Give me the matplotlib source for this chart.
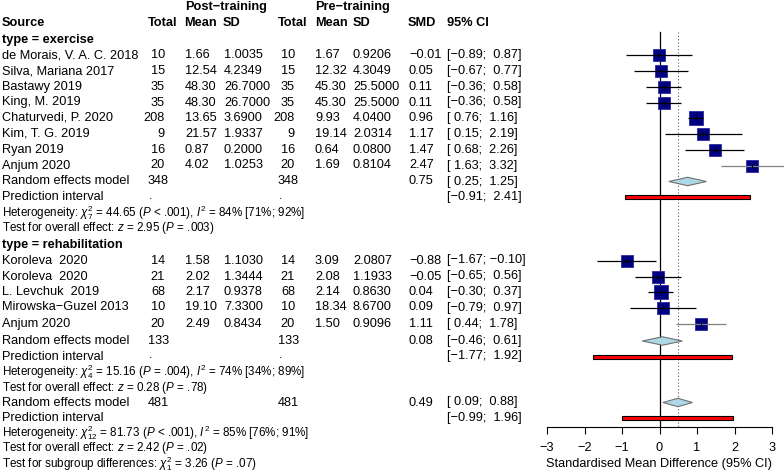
import matplotlib
matplotlib.use("Agg")
import matplotlib.pyplot as plt
from matplotlib.patches import Polygon, Rectangle

plt.rcParams['font.family'] = ['Liberation Sans', 'DejaVu Sans']
plt.rcParams['mathtext.fontset'] = 'custom'
plt.rcParams['mathtext.rm'] = 'Liberation Sans'
plt.rcParams['mathtext.it'] = 'Liberation Sans:italic'
plt.rcParams['mathtext.bf'] = 'Liberation Sans:bold'

MINUS = "\u2212"

# ---------------- data ----------------
ex_names = ["de Morais, V. A. C. 2018", "Silva, Mariana 2017", "Bastawy 2019", "King, M. 2019",
            "Chaturvedi, P. 2020", "Kim, T. G. 2019", "Ryan 2019", "Anjum 2020"]
ex_n_post = [10, 15, 35, 35, 208, 9, 16, 20]
ex_mean_post = [1.66, 12.54, 48.30, 48.30, 13.65, 21.57, 0.87, 4.02]
ex_sd_post = [1.0035, 4.2349, 26.7000, 26.7000, 3.6900, 1.9337, 0.2000, 1.0253]
ex_n_pre = [10, 15, 35, 35, 208, 9, 16, 20]
ex_mean_pre = [1.67, 12.32, 45.30, 45.30, 9.93, 19.14, 0.64, 1.69]
ex_sd_pre = [0.9206, 4.3049, 25.5000, 25.5000, 4.0400, 2.0314, 0.0800, 0.8104]
ex_smd = [-0.01, 0.05, 0.11, 0.11, 0.96, 1.17, 1.47, 2.47]
ex_lo = [-0.89, -0.67, -0.36, -0.36, 0.76, 0.15, 0.68, 1.63]
ex_hi = [0.87, 0.77, 0.58, 0.58, 1.16, 2.19, 2.26, 3.32]
ex_weight = [7.4, 7.4, 8.1, 8.1, 10.1, 6.3, 6.3, 7.4]

re_names = ["Koroleva  2020", "Koroleva  2020", "L. Levchuk  2019", "Mirowska\u2212Guzel 2013", "Anjum 2020"]
re_n_post = [14, 21, 68, 10, 20]
re_mean_post = [1.58, 2.02, 2.17, 19.10, 2.49]
re_sd_post = [1.1030, 1.3444, 0.9378, 7.3300, 0.8434]
re_n_pre = [14, 21, 68, 10, 20]
re_mean_pre = [3.09, 2.08, 2.14, 18.34, 1.50]
re_sd_pre = [2.0807, 1.1933, 0.8630, 8.6700, 0.9096]
re_smd = [-0.88, -0.05, 0.04, 0.09, 1.11]
re_lo = [-1.67, -0.65, -0.30, -0.79, 0.44]
re_hi = [-0.10, 0.56, 0.37, 0.97, 1.78]
re_weight = [7.4, 8.1, 8.7, 6.3, 8.3]

# summaries: total, smd, lo, hi, pi_lo, pi_hi
ex_summary = [348, 0.75, 0.25, 1.25, -0.91, 2.41]
re_summary = [133, 0.08, -0.46, 0.61, -1.77, 1.92]
all_summary = [481, 0.49, 0.09, 0.88, -0.99, 1.96]

ex_het = r"Heterogeneity: $\chi^2_7$ = 44.65 ($P$ < .001), $I^2$ = 84% [71%; 92%]"
ex_test = r"Test for overall effect: $z$ = 2.95 ($P$ = .003)"
re_het = r"Heterogeneity: $\chi^2_4$ = 15.16 ($P$ = .004), $I^2$ = 74% [34%; 89%]"
re_test = r"Test for overall effect: $z$ = 0.28 ($P$ = .78)"
all_het = r"Heterogeneity: $\chi^2_{12}$ = 81.73 ($P$ < .001), $I^2$ = 85% [76%; 91%]"
all_test = r"Test for overall effect: $z$ = 2.42 ($P$ = .02)"
sub_test = r"Test for subgroup differences: $\chi^2_1$ = 3.26 ($P$ = .07)"

xticks = [-3, -2, -1, 0, 1, 2, 3]
xlabel = "Standardised Mean Difference (95% CI)"

# ---------------- layout ----------------
W, H = 784, 476
FS = 9.2
FS_SMALL = 8.4
fig = plt.figure(figsize=(W / 100, H / 100), dpi=100)
axT = fig.add_axes([0, 0, 1, 1])
axT.set_xlim(0, W)
axT.set_ylim(H, 0)
axT.axis('off')

X0PIX, X1PIX, AXIS_Y = 547, 772, 427
axF = fig.add_axes([X0PIX / W, 1 - AXIS_Y / H, (X1PIX - X0PIX) / W, AXIS_Y / H])
axF.set_xlim(-3, 3)
axF.set_ylim(AXIS_Y, 0)
axF.patch.set_alpha(0)
for s in ['top', 'right', 'left']:
    axF.spines[s].set_visible(False)
axF.spines['bottom'].set_linewidth(0.8)
axF.set_yticks([])
axF.set_xticks(xticks)
axF.set_xticklabels([str(t).replace('-', MINUS) for t in xticks])
axF.tick_params(axis='x', length=5, width=0.8, pad=6, labelsize=FS)
axF.set_xlabel(xlabel, fontsize=FS, labelpad=3)

def fnum(v, d):
    s = f"{v:.{d}f}"
    return s.replace('-', MINUS)

def ci(lo, hi):
    def p(v):
        s = fnum(v, 2)
        return s if v < 0 else " " + s
    return "[" + p(lo) + "; " + p(hi) + "]"

def txt(x, y, s, ha='left', bold=False, fs=FS):
    axT.text(x, y, s, ha=ha, va='center', fontsize=fs,
             fontweight='bold' if bold else 'normal')

# column x positions
C_SRC, C_NPOST_R, C_MPOST, C_SDPOST = 2, 165, 185, 224
C_NPRE_R, C_MPRE, C_SDPRE = 295, 315, 353
C_TOT1, C_TOT2 = 148, 278
C_SMD, C_CI = 409, 447

# headers
txt(C_MPOST, 7, "Post\u2212training", bold=True)
txt(C_MPRE, 7, "Pre\u2212training", bold=True)
y_hdr = 23
txt(C_SRC, y_hdr, "Source", bold=True)
txt(C_TOT1, y_hdr, "Total", bold=True)
txt(C_MPOST - 1, y_hdr, "Mean", bold=True)
txt(C_SDPOST - 1, y_hdr, "SD", bold=True)
txt(C_TOT2, y_hdr, "Total", bold=True)
txt(C_MPRE, y_hdr, "Mean", bold=True)
txt(C_SDPRE, y_hdr, "SD", bold=True)
txt(C_SMD - 1, y_hdr, "SMD", bold=True)
txt(C_CI, y_hdr, "95% CI", bold=True)

def study_block(ys, names, npo, mpo, sdpo, npr, mpr, sdpr, smd, lo, hi, w, gray_idx):
    for i, y in enumerate(ys):
        txt(C_SRC, y, names[i])
        txt(C_NPOST_R, y, str(npo[i]), ha='right')
        txt(C_MPOST, y, fnum(mpo[i], 2))
        txt(C_SDPOST, y, fnum(sdpo[i], 4))
        txt(C_NPRE_R, y, str(npr[i]), ha='right')
        txt(C_MPRE, y, fnum(mpr[i], 2))
        txt(C_SDPRE, y, fnum(sdpr[i], 4))
        txt(C_SMD, y, fnum(smd[i], 2))
        txt(C_CI, y, ci(lo[i], hi[i]))
        size_px = 4.45 * w[i] ** 0.5
        axF.plot([smd[i]], [y], marker='s', ms=size_px * 0.72, mfc='#000080',
                 mec='#2a2aa0', mew=0.6, ls='none', zorder=3, clip_on=False)
        lc = '#808080' if i in gray_idx else 'black'
        axF.plot([lo[i], hi[i]], [y, y], color=lc, lw=0.9, zorder=4, clip_on=False,
                 solid_capstyle='butt')
        axF.plot([smd[i]], [y], marker='|', ms=3.5, mew=0.8, color='black', zorder=5)

def summary_block(y_rand, y_pred, summ, het, test, y_het, y_test, dot=True):
    tot, est, lo, hi, plo, phi = summ
    txt(C_SRC, y_rand, "Random effects model")
    txt(C_TOT1, y_rand, str(tot))
    txt(C_TOT2, y_rand, str(tot))
    txt(C_SMD, y_rand, fnum(est, 2))
    txt(C_CI, y_rand, ci(lo, hi))
    txt(C_SRC, y_pred, "Prediction interval")
    if dot:
        txt(C_TOT1 + 1, y_pred - 1, ".")
        txt(C_TOT2 + 1, y_pred - 1, ".")
    txt(C_CI, y_pred, ci(plo, phi))
    txt(C_SRC, y_het, het, fs=FS_SMALL)
    txt(C_SRC, y_test, test, fs=FS_SMALL)
    dh = 4.2
    axF.add_patch(Polygon([(lo, y_rand), (est, y_rand - dh), (hi, y_rand), (est, y_rand + dh)],
                          closed=True, fc='#add8e6', ec='#707070', lw=0.8, zorder=3))
    axF.add_patch(Rectangle((plo, y_pred - 2), phi - plo, 4, fc='#ff0000', ec='black',
                            lw=0.8, zorder=3))

# exercise subgroup
txt(C_SRC, 39.5, "type = exercise", bold=True)
ex_rows = [55, 71, 87, 102.5, 118, 134, 150, 165.5]
study_block(ex_rows, ex_names, ex_n_post, ex_mean_post, ex_sd_post, ex_n_pre, ex_mean_pre,
            ex_sd_pre, ex_smd, ex_lo, ex_hi, ex_weight, gray_idx=[7])
summary_block(181.5, 197, ex_summary, ex_het, ex_test, 212.5, 228.5)

# rehabilitation subgroup
txt(C_SRC, 245, "type = rehabilitation", bold=True)
re_rows = [260.5, 276.5, 292, 307.5, 324]
study_block(re_rows, re_names, re_n_post, re_mean_post, re_sd_post, re_n_pre, re_mean_pre,
            re_sd_pre, re_smd, re_lo, re_hi, re_weight, gray_idx=[4])
summary_block(341, 356.5, re_summary, re_het, re_test, 372, 387.5)

# overall
summary_block(402.5, 418, all_summary, all_het, all_test, 433, 448.5, dot=False)
txt(C_SRC, 463.5, sub_test, fs=FS_SMALL)

# reference lines
axF.plot([0, 0], [32, AXIS_Y], color='black', lw=0.9, zorder=2)
axF.plot([all_summary[1]] * 2, [32, AXIS_Y], color='#606060', lw=0.8, ls=(0, (1, 2)), zorder=2)

fig.savefig("out.png", dpi=100)
